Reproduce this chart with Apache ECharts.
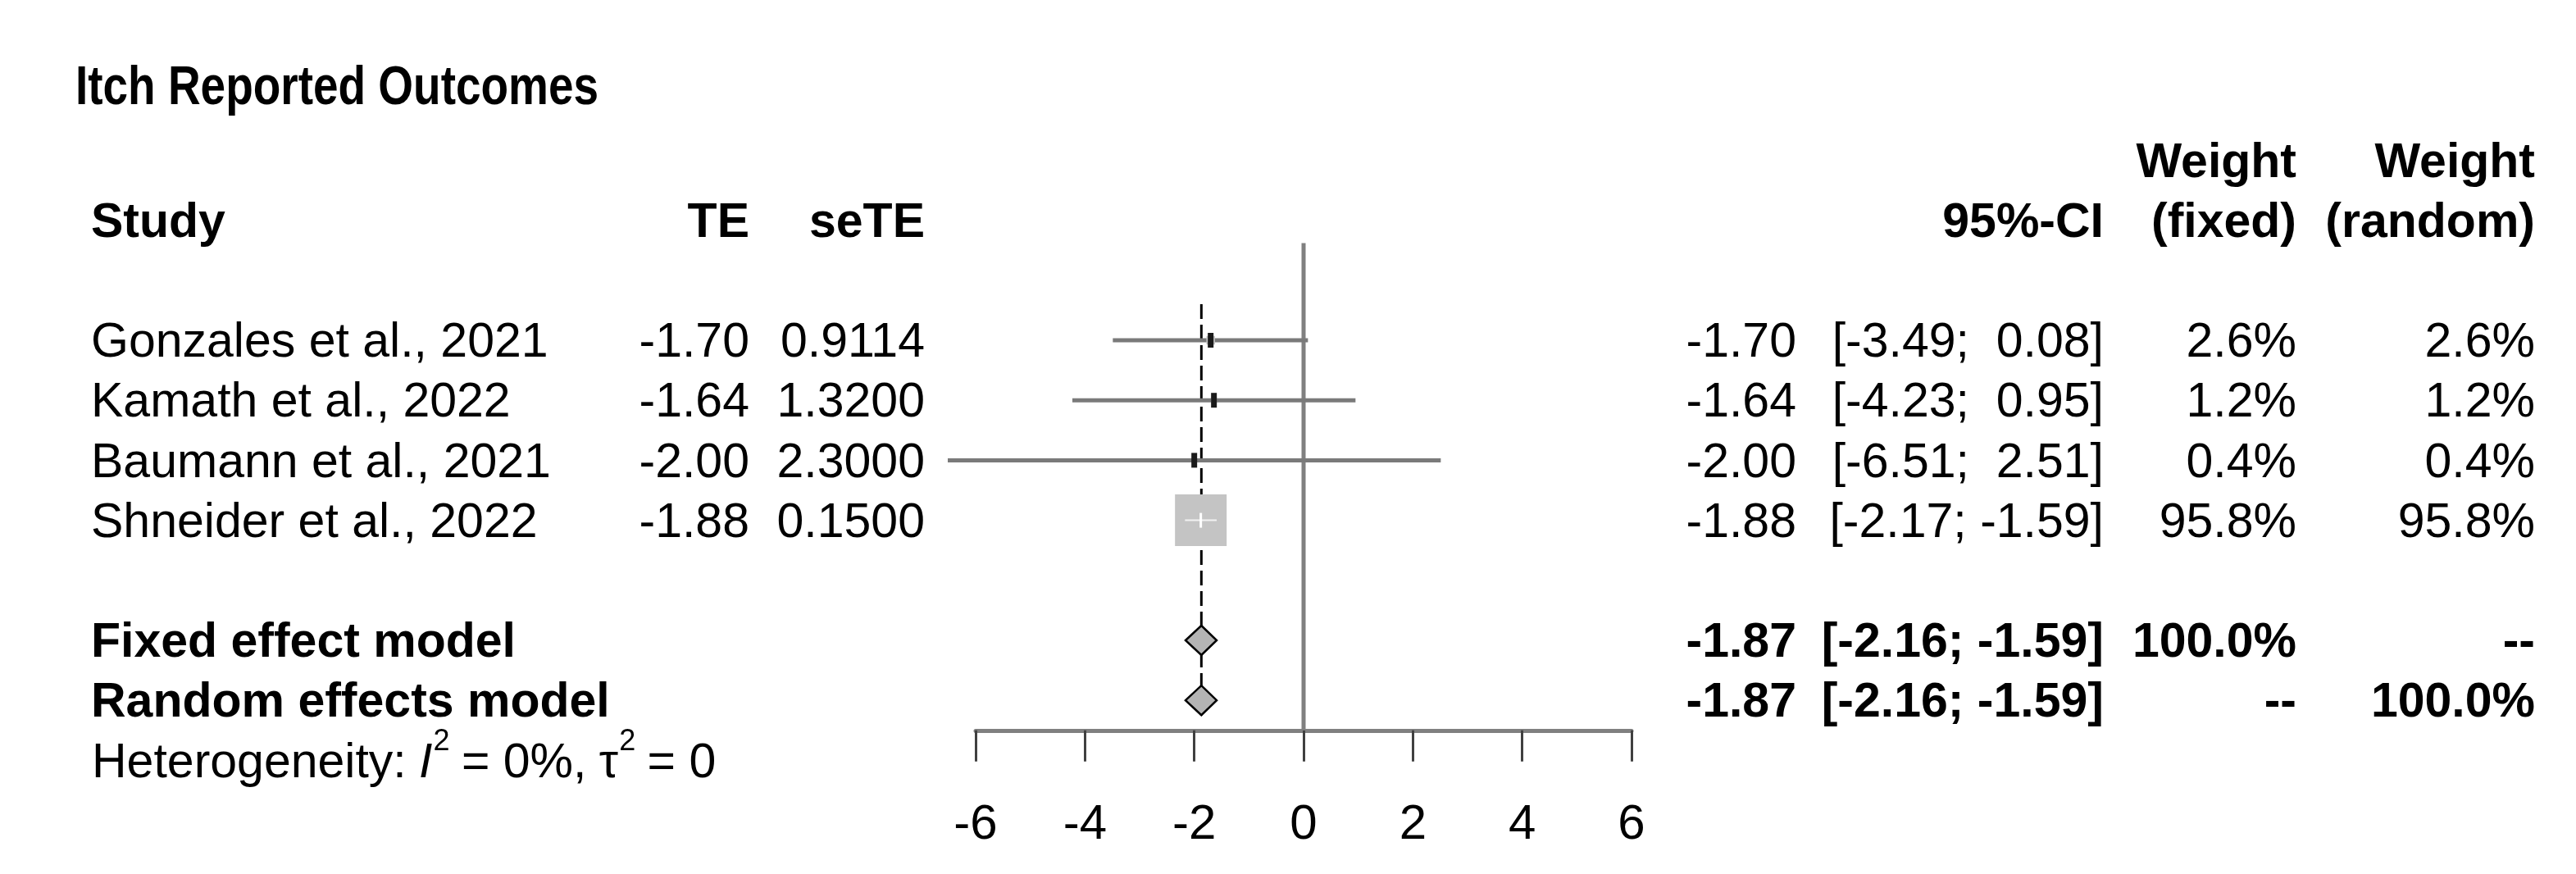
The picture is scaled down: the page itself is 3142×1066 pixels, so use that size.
<!DOCTYPE html>
<html><head><meta charset="utf-8">
<script src="https://cdn.jsdelivr.net/npm/echarts@6/dist/echarts.min.js"></script>
<style>html,body{margin:0;padding:0;background:#fff}#c{width:3142px;height:1066px}</style>
</head><body><div id="c"></div>
<script>
// ---------------- data ----------------
const title = 'Itch Reported Outcomes';
const studies = ['Gonzales et al., 2021', 'Kamath et al., 2022', 'Baumann et al., 2021', 'Shneider et al., 2022'];
const te = [-1.70, -1.64, -2.00, -1.88];
const seTE = [0.9114, 1.3200, 2.3000, 0.1500];
const ciLower = [-3.49, -4.23, -6.51, -2.17];
const ciUpper = [0.08, 0.95, 2.51, -1.59];
const weightFixed = [2.6, 1.2, 0.4, 95.8];
const weightRandom = [2.6, 1.2, 0.4, 95.8];
const modelNames = ['Fixed effect model', 'Random effects model'];
const modelEst = [-1.87, -1.87];
const modelLower = [-2.16, -2.16];
const modelUpper = [-1.59, -1.59];
const modelWFixed = ['100.0%', '--'];
const modelWRandom = ['--', '100.0%'];
const heterogeneity = { I2: '0%', tau2: '0' };
const xTickLabels = [-6, -4, -2, 0, 2, 4, 6];
const headerCols = { study: 'Study', te: 'TE', se: 'seTE', ci: '95%-CI', wf: ['Weight', '(fixed)'], wr: ['Weight', '(random)'] };

// ---------------- layout ----------------
const studyRows = [0, 1, 2, 3];
const modelRows = [5, 6];
const hetRow = 7;
const rowH = 73.2, row0 = 415;
const yMin = -2, yMax = 6.5;
const gridTop = row0 + yMin * rowH;
const gridBottomPx = row0 + yMax * rowH;
const TXT_DY = 4; // canvas 'middle' sits a little above the cap centre

const FS = 59;
const FF = '"Liberation Sans", Arial, sans-serif';
const REG = FS + 'px ' + FF;
const BOLD = 'bold ' + FS + 'px ' + FF;

const col = { study: 111, te: 914, se: 1128, eff: 2191, ci: 2566, wf: 2801, wr: 3092 };

function fmtCI(lo, hi) {
  const p = v => { let s = v.toFixed(2); while (s.length < 5) s = ' ' + s; return s; };
  return '[' + p(lo) + '; ' + p(hi) + ']';
}

const maxW = Math.max.apply(null, weightFixed);

const chart = echarts.init(document.getElementById('c'), null, { renderer: 'canvas' });

const option = {
  animation: false,
  backgroundColor: '#ffffff',
  grid: { left: 1190, width: 800, top: gridTop, bottom: 1066 - gridBottomPx, containLabel: false },
  xAxis: {
    type: 'value', min: -6, max: 6, interval: 2,
    axisLine: { onZero: false, lineStyle: { color: '#808080', width: 5 } },
    axisTick: { length: 38, lineStyle: { color: '#404040', width: 3 } },
    axisLabel: { fontSize: 60, fontFamily: FF, color: '#000', margin: 86,
      formatter: v => String(v) },
    splitLine: { show: false }
  },
  yAxis: { type: 'value', min: yMin, max: yMax, inverse: true, show: false, splitLine: { show: false } },
  series: [
    { // line of no effect
      type: 'line', silent: true, symbol: 'none', z: 1,
      data: [[0, -1.62], [0, yMax]],
      lineStyle: { color: '#808080', width: 5 }
    },
    { // fixed-effect estimate line
      type: 'line', silent: true, symbol: 'none', z: 2,
      data: [[modelEst[0], -0.6], [modelEst[0], 6.25]],
      lineStyle: { color: '#000', width: 3, type: [18, 7] }
    },
    { // study CIs, boxes, point ticks
      type: 'custom', z: 3, silent: true,
      data: studyRows.map((k, i) => [ciLower[i], ciUpper[i], te[i], k, weightFixed[i]]),
      renderItem: (params, api) => {
        const lo = api.value(0), hi = api.value(1), est = api.value(2), k = api.value(3), w = api.value(4);
        const a = api.coord([lo, k]), b = api.coord([hi, k]), c = api.coord([est, k]);
        const side = 63 * Math.sqrt(w / maxW);
        const big = side > 20;
        const children = [
          { type: 'line', shape: { x1: a[0], y1: a[1], x2: b[0], y2: b[1] }, style: { stroke: '#7a7a7a', lineWidth: 5 } },
          { type: 'rect', shape: { x: c[0] - side / 2, y: c[1] - side / 2, width: side, height: side }, style: { fill: '#c4c4c4' } }
        ];
        if (big) {
          children.push({ type: 'line', shape: { x1: a[0], y1: a[1], x2: b[0], y2: b[1] }, style: { stroke: '#f2f2f2', lineWidth: 2 } });
          children.push({ type: 'rect', shape: { x: c[0] - 1.5, y: c[1] - 9, width: 3, height: 18 }, style: { fill: '#ffffff' } });
        } else {
          children.push({ type: 'rect', shape: { x: c[0] - 3.5, y: c[1] - 9, width: 7, height: 18 }, style: { fill: '#1a1a1a' } });
        }
        return { type: 'group', children };
      }
    },
    { // pooled diamonds
      type: 'custom', z: 4, silent: true,
      data: modelRows.map((k, i) => [modelLower[i], modelEst[i], modelUpper[i], k]),
      renderItem: (params, api) => {
        const lo = api.value(0), est = api.value(1), hi = api.value(2), k = api.value(3);
        const L = api.coord([lo, k]), M = api.coord([est, k]), R = api.coord([hi, k]);
        const h = 18;
        return { type: 'polygon', shape: { points: [[L[0], L[1]], [M[0], M[1] - h], [R[0], R[1]], [M[0], M[1] + h]] },
          style: { fill: '#b4b4b4', stroke: '#000', lineWidth: 2.5 } };
      }
    }
  ]
};
chart.setOption(option);

// ---------------- table text ----------------
const rowY = k => chart.convertToPixel({ yAxisIndex: 0 }, k) + TXT_DY;
const els = [];
function txt(x, y, text, font, align, extra) {
  const e = { type: 'text', x: x, y: y, silent: true,
    style: { text: text, font: font, fill: '#000', align: align, textAlign: align, verticalAlign: 'middle', textVerticalAlign: 'middle' } };
  if (extra) Object.assign(e, extra);
  els.push(e);
}
// title: condensed bold face (horizontally compressed)
txt(92, 105 + TXT_DY, title, 'bold 67px ' + FF, 'left', { scaleX: 0.82, scaleY: 1 });

const h1 = rowY(-3), h2 = rowY(-2);
txt(col.study, h2, headerCols.study, BOLD, 'left');
txt(col.te, h2, headerCols.te, BOLD, 'right');
txt(col.se, h2, headerCols.se, BOLD, 'right');
txt(col.ci, h2, headerCols.ci, BOLD, 'right');
txt(col.wf, h1, headerCols.wf[0], BOLD, 'right');
txt(col.wf, h2, headerCols.wf[1], BOLD, 'right');
txt(col.wr, h1, headerCols.wr[0], BOLD, 'right');
txt(col.wr, h2, headerCols.wr[1], BOLD, 'right');

studyRows.forEach((k, i) => {
  const y = rowY(k);
  txt(col.study, y, studies[i], REG, 'left');
  txt(col.te, y, te[i].toFixed(2), REG, 'right');
  txt(col.se, y, seTE[i].toFixed(4), REG, 'right');
  txt(col.eff, y, te[i].toFixed(2), REG, 'right');
  txt(col.ci, y, fmtCI(ciLower[i], ciUpper[i]), REG, 'right');
  txt(col.wf, y, weightFixed[i].toFixed(1) + '%', REG, 'right');
  txt(col.wr, y, weightRandom[i].toFixed(1) + '%', REG, 'right');
});
modelRows.forEach((k, i) => {
  const y = rowY(k);
  txt(col.study, y, modelNames[i], BOLD, 'left');
  txt(col.eff, y, modelEst[i].toFixed(2), BOLD, 'right');
  txt(col.ci, y, fmtCI(modelLower[i], modelUpper[i]), BOLD, 'right');
  txt(col.wf, y, modelWFixed[i], BOLD, 'right');
  txt(col.wr, y, modelWRandom[i], BOLD, 'right');
});

// heterogeneity line with italic I and superscripts
(function () {
  const y = rowY(hetRow);
  const ctx = document.createElement('canvas').getContext('2d');
  const SUP = '36px ' + FF;
  const IT = 'italic ' + FS + 'px ' + FF;
  const pieces = [
    { t: 'Heterogeneity: ', f: REG, sup: false },
    { t: 'I', f: IT, sup: false },
    { t: '2', f: SUP, sup: true },
    { t: ' = ' + heterogeneity.I2 + ', ', f: REG, sup: false },
    { t: '\u03C4', f: REG, sup: false },
    { t: '2', f: SUP, sup: true },
    { t: ' = ' + heterogeneity.tau2, f: REG, sup: false }
  ];
  let x = 112;
  pieces.forEach(p => {
    ctx.font = p.f;
    const w = ctx.measureText(p.t).width;
    txt(x + (p.sup ? 2 : 0), p.sup ? y - 26 : y, p.t, p.f, 'left');
    x += w + (p.sup ? 0 : -1);
  });
})();

chart.setOption({ graphic: { elements: els } });
</script>
</body></html>
